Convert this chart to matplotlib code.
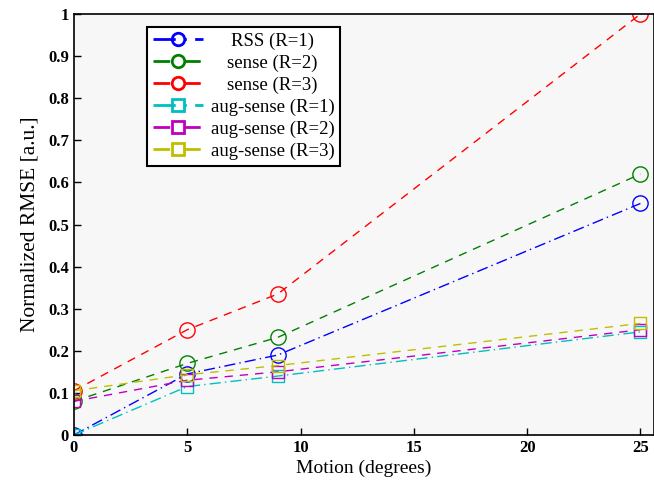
import numpy as np
import matplotlib.pyplot as plt

# motion levels (degrees)
motion = [0, 5, 9, 25]

rss_r1 = [0.0, 0.145, 0.19, 0.55]
sense_r2 = [0.08, 0.17, 0.232, 0.62]
sense_r3 = [0.105, 0.25, 0.335, 1.0]
aug_r1 = [0.0, 0.115, 0.14, 0.245]
aug_r2 = [0.08, 0.13, 0.15, 0.25]
aug_r3 = [0.105, 0.143, 0.165, 0.265]

labels = ['RSS (R=1)', 'sense (R=2)', 'sense (R=3)',
          'aug-sense (R=1)', 'aug-sense (R=2)', 'aug-sense (R=3)']

plt.rcParams['font.family'] = ['Liberation Serif', 'DejaVu Serif']

fig = plt.figure(figsize=(6.54, 4.86), dpi=100)
ax = fig.add_axes([0.113, 0.105, 0.887, 0.866])
ax.set_facecolor('#f7f7f7')

dd = (8, 3, 1, 3)
ax.plot(motion, rss_r1, color='b', ls=(0, dd), lw=1, marker='o', ms=11, mfc='none', mew=1, label=labels[0])
ax.plot(motion, sense_r2, color='g', ls=(0, (6, 5)), lw=1, marker='o', ms=11, mfc='none', mew=1, label=labels[1])
ax.plot(motion, sense_r3, color='r', ls=(0, (6, 5)), lw=1, marker='o', ms=11, mfc='none', mew=1, label=labels[2])
ax.plot(motion, aug_r1, color='c', ls=(0, dd), lw=1, marker='s', ms=9, mfc='none', mew=1, label=labels[3])
ax.plot(motion, aug_r2, color='m', ls=(0, (6, 5)), lw=1, marker='s', ms=9, mfc='none', mew=1, label=labels[4])
ax.plot(motion, aug_r3, color='y', ls=(0, (6, 5)), lw=1, marker='s', ms=9, mfc='none', mew=1, label=labels[5])

ax.set_xlim(0, 25.6)
ax.set_ylim(0, 1)
ax.set_xticks([0, 5, 10, 15, 20, 25])
ax.set_yticks(np.arange(0, 1.01, 0.1))
ax.set_yticklabels(['0', '0.1', '0.2', '0.3', '0.4', '0.5', '0.6', '0.7', '0.8', '0.9', '1'])
ax.tick_params(direction='in', length=5, width=1, labelsize=12)
for t in ax.get_xticklabels() + ax.get_yticklabels():
    t.set_fontweight('bold')
for s in ax.spines.values():
    s.set_linewidth(1.2)

ax.set_xlabel('Motion (degrees)', fontsize=14, labelpad=3)
ax.set_ylabel('Normalized RMSE [a.u.]', fontsize=15.5, labelpad=6)

leg = ax.legend(loc='upper left', bbox_to_anchor=(0.126, 0.969), borderaxespad=0,
                fancybox=False, edgecolor='k', framealpha=1, fontsize=13.5,
                handlelength=2.7, labelspacing=0.25, borderpad=0.3, handletextpad=0.4)
leg.get_frame().set_linewidth(1.5)
for ln in leg.get_lines():
    ln.set_linewidth(2)
    ln.set_markeredgewidth(2)
    ln.set_markersize(9 if ln.get_marker() == 'o' else 8)

# center the legend labels inside the text column
fig.canvas.draw()
renderer = fig.canvas.get_renderer()
texts = leg.get_texts()
widths = [t.get_window_extent(renderer).width for t in texts]
wmax = max(widths)
for t, w in zip(texts, widths):
    t.set_position(((wmax - w) / 2, 0))

fig.savefig('out.png', dpi=100)
